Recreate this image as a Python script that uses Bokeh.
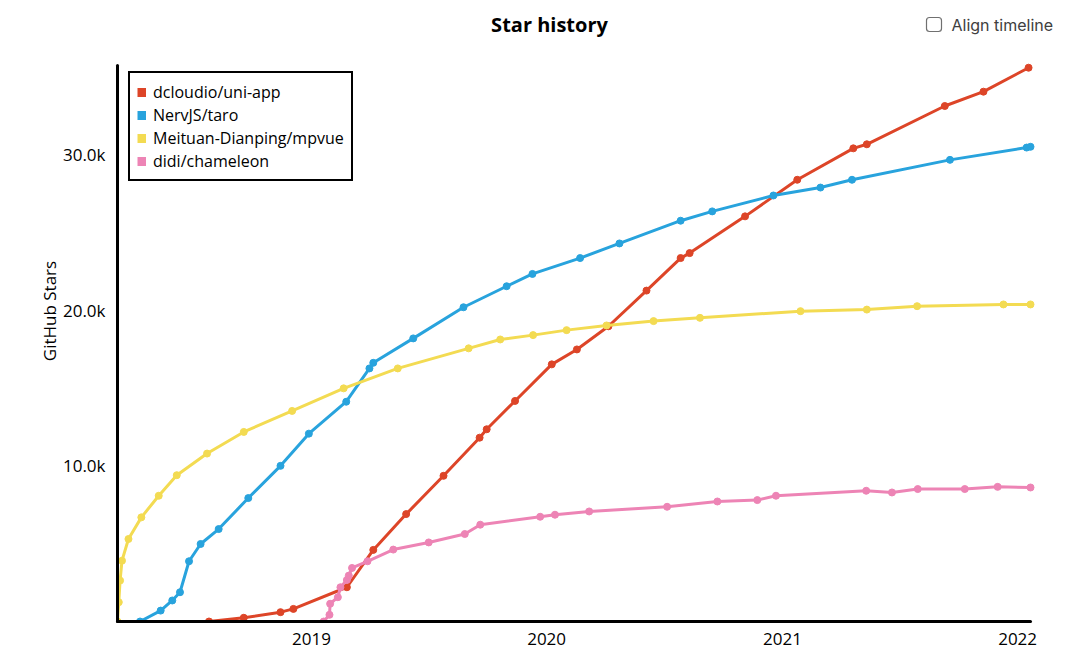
import pandas as pd
from bokeh.plotting import figure
from bokeh.models import (Range1d, FixedTicker, DatetimeTickFormatter, Legend,
                          LegendItem, Label, BoxAnnotation)
from bokeh.embed import file_html
from bokeh.resources import INLINE

# ---------------- data ----------------
repos = ["dcloudio/uni-app", "NervJS/taro", "Meituan-Dianping/mpvue", "didi/chameleon"]
colors = ["#dd4528", "#28a3dd", "#f3db52", "#ed84b5"]

uni_dates = ["2018-07-26", "2018-09-18", "2018-11-14", "2018-12-04", "2019-02-25",
             "2019-04-07", "2019-05-28", "2019-07-25", "2019-09-19", "2019-09-30",
             "2019-11-13", "2020-01-09", "2020-02-17", "2020-04-06", "2020-06-04",
             "2020-07-27", "2020-08-10", "2020-11-04", "2021-01-24", "2021-04-21",
             "2021-05-12", "2021-09-10", "2021-11-09", "2022-01-18"]
uni_stars = [0, 240, 600, 810, 2200, 4600, 6900, 9360, 11810, 12350, 14170, 16520,
             17480, 18970, 21260, 23350, 23670, 26030, 28380, 30400, 30660, 33120,
             34040, 35580]

taro_dates = ["2018-04-10", "2018-05-12", "2018-05-30", "2018-06-11", "2018-06-25",
              "2018-07-13", "2018-08-10", "2018-09-25", "2018-11-14", "2018-12-28",
              "2019-02-24", "2019-04-01", "2019-04-07", "2019-06-08", "2019-08-25",
              "2019-10-31", "2019-12-10", "2020-02-22", "2020-04-23", "2020-07-27",
              "2020-09-14", "2020-12-18", "2021-03-01", "2021-04-19", "2021-09-18",
              "2022-01-15", "2022-01-21"]
taro_stars = [0, 700, 1350, 1880, 3870, 4980, 5940, 7930, 10000, 12070, 14120, 16260,
              16620, 18190, 20190, 21540, 22330, 23350, 24290, 25750, 26350, 27370,
              27880, 28380, 29660, 30450, 30500]

mpvue_dates = ["2018-03-06", "2018-03-08", "2018-03-10", "2018-03-13", "2018-03-23",
               "2018-04-12", "2018-05-09", "2018-06-06", "2018-07-23", "2018-09-18",
               "2018-12-02", "2019-02-20", "2019-05-15", "2019-09-02", "2019-10-21",
               "2019-12-11", "2020-02-01", "2020-04-03", "2020-06-15", "2020-08-26",
               "2021-01-29", "2021-05-12", "2021-07-29", "2021-12-10", "2022-01-21"]
mpvue_stars = [0, 1240, 2630, 3910, 5300, 6690, 8080, 9400, 10790, 12180, 13530, 14980,
               16260, 17550, 18120, 18400, 18720, 19020, 19300, 19510, 19940, 20040,
               20260, 20370, 20370]

chameleon_dates = ["2019-01-20", "2019-01-29", "2019-01-30", "2019-02-11", "2019-02-15",
                   "2019-02-25", "2019-02-28", "2019-03-05", "2019-03-29", "2019-05-08",
                   "2019-07-02", "2019-08-27", "2019-09-20", "2019-12-22", "2020-01-14",
                   "2020-03-07", "2020-07-06", "2020-09-22", "2020-11-23", "2020-12-22",
                   "2021-05-11", "2021-06-20", "2021-07-30", "2021-10-11", "2021-12-01",
                   "2022-01-21"]
chameleon_stars = [0, 430, 1140, 1560, 2200, 2670, 2950, 3440, 3870, 4620, 5080, 5620,
                   6220, 6730, 6860, 7070, 7370, 7710, 7800, 8080, 8400, 8290, 8510,
                   8510, 8650, 8610]

year_ticks = ["2019-01-01", "2020-01-01", "2021-01-01", "2022-01-01"]
star_ticks = [10000, 20000, 30000]
star_labels = ["10.0k", "20.0k", "30.0k"]

title_text = "Star history"
y_title = "GitHub Stars"
toggle_text = "Align timeline"

FONT = "Open Sans"

# ---------------- layout geometry (pixels) ----------------
W, H = 1072, 648
AX_LEFT, AX_RIGHT = 117, 1030      # where the axes start / end
AX_TOP, AX_BOTTOM = 65, 621
FRAME_W = W - AX_LEFT               # frame runs to the right canvas edge
FRAME_H = AX_BOTTOM                 # frame runs to the top canvas edge

series = [
    (uni_dates, uni_stars),
    (taro_dates, taro_stars),
    (mpvue_dates, mpvue_stars),
    (chameleon_dates, chameleon_stars),
]
all_dates = pd.to_datetime(uni_dates + taro_dates + mpvue_dates + chameleon_dates)
all_stars = uni_stars + taro_stars + mpvue_stars + chameleon_stars

x0, x1 = all_dates.min(), all_dates.max()
x_end = x0 + pd.Timedelta(seconds=(x1 - x0).total_seconds() * FRAME_W / (AX_RIGHT - AX_LEFT))
y_top = max(all_stars) * 1.004
y_end = y_top * FRAME_H / (AX_BOTTOM - AX_TOP)

p = figure(width=W, height=H, x_axis_type="datetime",
           output_backend="svg", toolbar_location=None,
           x_range=Range1d(x0.to_pydatetime(), x_end.to_pydatetime()),
           y_range=Range1d(0, y_end),
           min_border_left=AX_LEFT, min_border_right=0,
           min_border_top=0, min_border_bottom=H - AX_BOTTOM)
p.outline_line_color = None
p.grid.visible = False

for (d, s), c in zip(series, colors):
    x = pd.to_datetime(d)
    p.line(x, s, line_color=c, line_width=3, line_join="round", line_cap="round")
    p.scatter(x, s, size=7, color=c)

for ax in (p.xaxis[0], p.yaxis[0]):
    ax.axis_line_width = 3
    ax.axis_line_color = "black"
    ax.axis_line_cap = "round"
    ax.major_tick_line_color = None
    ax.minor_tick_line_color = None
    ax.major_label_text_font = FONT
    ax.major_label_text_font_size = "17px"
    ax.major_label_text_color = "black"

p.xaxis.bounds = (x0.to_pydatetime(), x1.to_pydatetime())
p.xaxis.ticker = FixedTicker(ticks=[pd.Timestamp(t).value // 10**6 for t in year_ticks])
p.xaxis.formatter = DatetimeTickFormatter(years="%Y", months="%Y", days="%Y")
p.xaxis.major_label_standoff = 5

p.yaxis.bounds = (0, y_top)
p.yaxis.ticker = FixedTicker(ticks=star_ticks)
p.yaxis.major_label_overrides = {t: l for t, l in zip(star_ticks, star_labels)}
p.yaxis.major_label_standoff = 6
p.yaxis.axis_label = y_title
p.yaxis.axis_label_text_font = FONT
p.yaxis.axis_label_text_font_size = "17px"
p.yaxis.axis_label_text_font_style = "normal"
p.yaxis.axis_label_text_color = "black"
p.yaxis.axis_label_standoff = -1

# legend with square swatches (proxy renderers that draw nothing in the plot)
items = []
for name, c in zip(repos, colors):
    r = p.line(x=[float("nan")], y=[float("nan")], line_color=c, line_width=9)
    items.append(LegendItem(label=name, renderers=[r]))
legend = Legend(items=items, location=(128 - AX_LEFT, AX_BOTTOM - 181), margin=0,
                padding=7, spacing=0, label_height=23, glyph_width=9, glyph_height=20,
                label_standoff=7, label_text_font=FONT, label_text_font_size="16px",
                label_text_color="black", border_line_color="black",
                border_line_width=2, border_line_alpha=1.0,
                background_fill_color="white", background_fill_alpha=1.0)
p.add_layout(legend)

# title and the "Align timeline" toggle (inside the frame, above the axes)
p.add_layout(Label(x=549 - AX_LEFT, y=AX_BOTTOM - 24, x_units="screen", y_units="screen",
                   text=title_text, text_align="center", text_baseline="middle",
                   text_font=FONT, text_font_size="20px", text_font_style="bold",
                   text_color="black"))
p.add_layout(Label(x=951 - AX_LEFT, y=AX_BOTTOM - 24, x_units="screen", y_units="screen",
                   text=toggle_text, text_align="left", text_baseline="middle",
                   text_font="Inter", text_font_size="16px", text_color="#404040"))
p.add_layout(BoxAnnotation(left=926 - AX_LEFT, right=941 - AX_LEFT,
                           bottom=AX_BOTTOM - 31, top=AX_BOTTOM - 17,
                           left_units="screen", right_units="screen",
                           bottom_units="screen", top_units="screen",
                           fill_color="white", fill_alpha=1.0,
                           line_color="#707070", line_alpha=1.0, line_width=1.2,
                           border_radius=3))

open("out.html", "w").write(file_html(p, INLINE))
